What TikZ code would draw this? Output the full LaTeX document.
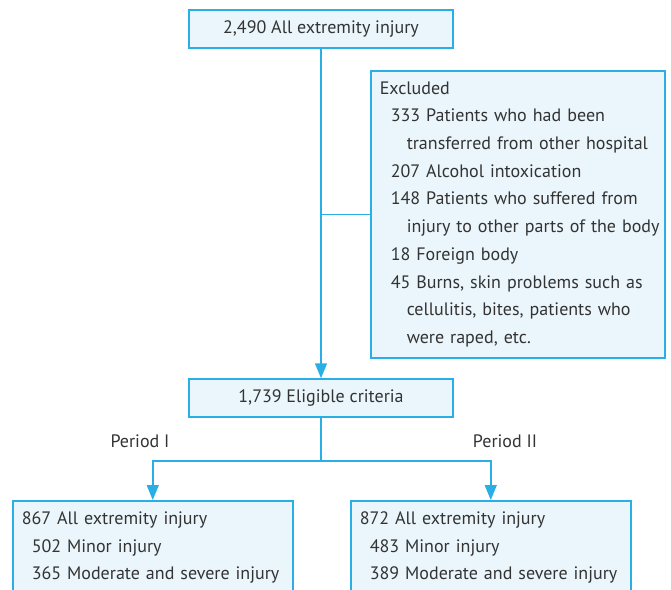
\documentclass[tikz,border=0pt]{standalone}
\usepackage{fontspec}
\setmainfont{PT Sans}
\usetikzlibrary{arrows.meta}
\definecolor{bord}{RGB}{41,175,230}
\definecolor{fillc}{RGB}{234,246,252}
\definecolor{txt}{RGB}{51,51,51}
\hbadness=10000 \hfuzz=50pt
\begin{document}
\begin{tikzpicture}[x=1pt,y=-1pt,
  font=\fontsize{18}{27.7}\selectfont,
  every node/.style={text=txt},
  box/.style={draw=bord, fill=fillc, line width=1.5pt, inner sep=0pt},
  lbox/.style={box, anchor=north west, inner xsep=9pt, align=left},
  conn/.style={draw=bord, line width=1.5pt},
  arr/.style={conn, -{Triangle[width=12pt,length=15pt]}}]
\useasboundingbox (0,0) rectangle (671,589);
\node[box, minimum width=264pt, minimum height=38pt] (all) at (321,29) {2,490 All extremity injury};
\node[lbox, minimum width=294pt, minimum height=287pt, text width=276pt] (excl) at (370,70)
 {\mbox{Excluded}\\
  \hspace*{11pt}\mbox{333 Patients who had been}\\
  \hspace*{27pt}\mbox{transferred from other hospital}\\
  \hspace*{11pt}\mbox{207 Alcohol intoxication}\\
  \hspace*{11pt}\mbox{148 Patients who suffered from}\\
  \hspace*{27pt}\mbox{injury to other parts of the body}\\
  \hspace*{11pt}\mbox{18 Foreign body}\\
  \hspace*{11pt}\mbox{45 Burns, skin problems such as}\\
  \hspace*{27pt}\mbox{cellulitis, bites, patients who}\\
  \hspace*{27pt}\mbox{were raped, etc.}};
\node[box, minimum width=264pt, minimum height=38pt] (elig) at (321,398) {1,739 Eligible criteria};
\node[lbox, minimum width=280pt, minimum height=94pt, text width=262pt] (p1) at (12,500)
 {\mbox{867 All extremity injury}\\
  \hspace*{10pt}\mbox{502 Minor injury}\\
  \hspace*{10pt}\mbox{365 Moderate and severe injury}};
\node[lbox, minimum width=280pt, minimum height=94pt, text width=262pt] (p2) at (350,500)
 {\mbox{872 All extremity injury}\\
  \hspace*{10pt}\mbox{483 Minor injury}\\
  \hspace*{10pt}\mbox{389 Moderate and severe injury}};
\node (l1) at (140,441) {Period I};
\node (l2) at (505,441) {Period II};
\coordinate (br) at (321,461);
\draw[arr] (all.south) -- (elig.north);
\draw[conn] (all.south |- excl.west) -- (excl.west);
\draw[conn] (elig.south) -- (br);
\draw[arr] (br) -| (p1.north);
\draw[arr] (br) -| (p2.north);
\end{tikzpicture}
\end{document}
